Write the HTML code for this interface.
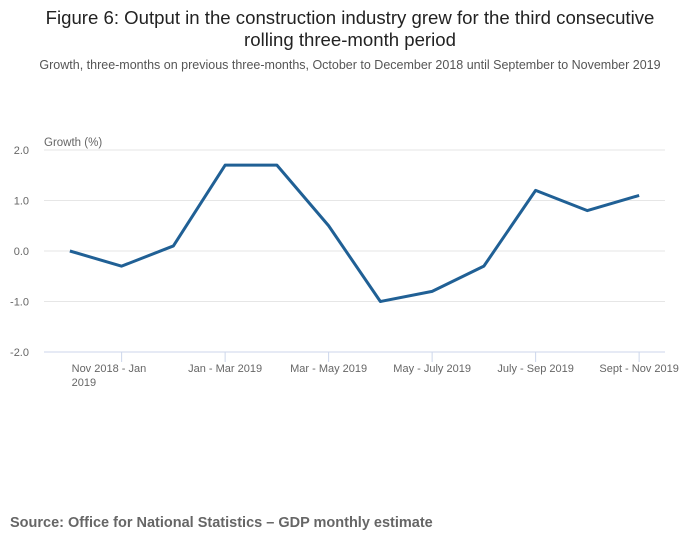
<!DOCTYPE html>
<html><head><meta charset="utf-8"><style>
body{margin:0;background:#fff;font-family:"Liberation Sans",sans-serif;}
svg{display:block}
</style></head><body>
<svg width="700" height="549">
<text x="350" y="24" text-anchor="middle" font-size="18.6" fill="#222">Figure 6: Output in the construction industry grew for the third consecutive</text>
<text x="350" y="46" text-anchor="middle" font-size="18.6" fill="#222">rolling three-month period</text>
<text x="350" y="69" text-anchor="middle" font-size="12.5" fill="#555">Growth, three-months on previous three-months, October to December 2018 until September to November 2019</text>
<text x="44" y="146" font-size="11.5" fill="#666">Growth (%)</text>
<g id="grid"></g>
<g id="xaxis"></g>
<path id="line" fill="none" stroke="#206095" stroke-width="3" stroke-linejoin="round"/>
<text x="10" y="527" font-size="14.5" font-weight="bold" fill="#666">Source: Office for National Statistics – GDP monthly estimate</text>
</svg>
<script>
const categories=["Oct - Dec 2018","Nov 2018 - Jan 2019","Dec 2018 - Feb 2019","Jan - Mar 2019","Feb - Apr 2019","Mar - May 2019","Apr - June 2019","May - July 2019","June - Aug 2019","July - Sep 2019","Aug - Oct 2019","Sept - Nov 2019"];
const values=[0.0,-0.3,0.1,1.7,1.7,0.5,-1.0,-0.8,-0.3,1.2,0.8,1.1];
const yTicks=[2,1,0,-1,-2];
const xTickLabels=[null,["Nov 2018 - Jan","2019"],null,["Jan - Mar 2019"],null,["Mar - May 2019"],null,["May - July 2019"],null,["July - Sep 2019"],null,["Sept - Nov 2019"]];
const NS="http://www.w3.org/2000/svg";
const left=44,right=665;
const step=(right-left)/categories.length;
const xs=i=>left+step*(i+0.5);
const ys=v=>251-v*50.5;
const grid=document.getElementById('grid');
yTicks.forEach(t=>{
 const l=document.createElementNS(NS,'line');
 l.setAttribute('x1',left);l.setAttribute('x2',right);l.setAttribute('y1',ys(t));l.setAttribute('y2',ys(t));
 l.setAttribute('stroke',t===-2?'#ccd6eb':'#e6e6e6');l.setAttribute('stroke-width',1);
 
 
 grid.appendChild(l);
 const tx=document.createElementNS(NS,'text');
 tx.setAttribute('x',29);tx.setAttribute('y',ys(t)+4);tx.setAttribute('text-anchor','end');
 tx.setAttribute('font-size','11');tx.setAttribute('fill','#666');
 tx.textContent=t.toFixed(1);
 
 
 grid.appendChild(tx);
});
const xa=document.getElementById('xaxis');
xTickLabels.forEach((lab,i)=>{
 if(!lab)return;
 const x=xs(i);
 const tk=document.createElementNS(NS,'line');
 tk.setAttribute('x1',x);tk.setAttribute('x2',x);tk.setAttribute('y1',352);tk.setAttribute('y2',362);
 tk.setAttribute('stroke','#ccd6eb');
 
 
 xa.appendChild(tk);
 const tx=document.createElementNS(NS,'text');
 tx.setAttribute('font-size','11');tx.setAttribute('fill','#666');
 
 
 lab.forEach((s,j)=>{
  const sp=document.createElementNS(NS,'tspan');
  sp.setAttribute('y',372+j*14);
  if(lab.length>1){sp.setAttribute('x',x-50);}else{sp.setAttribute('x',x);sp.setAttribute('text-anchor','middle');}
  sp.textContent=s;tx.appendChild(sp);
 });
 xa.appendChild(tx);
});
document.getElementById('line').setAttribute('d',values.map((v,i)=>(i?'L':'M')+xs(i)+','+ys(v)).join(' '));
</script>
</body></html>
